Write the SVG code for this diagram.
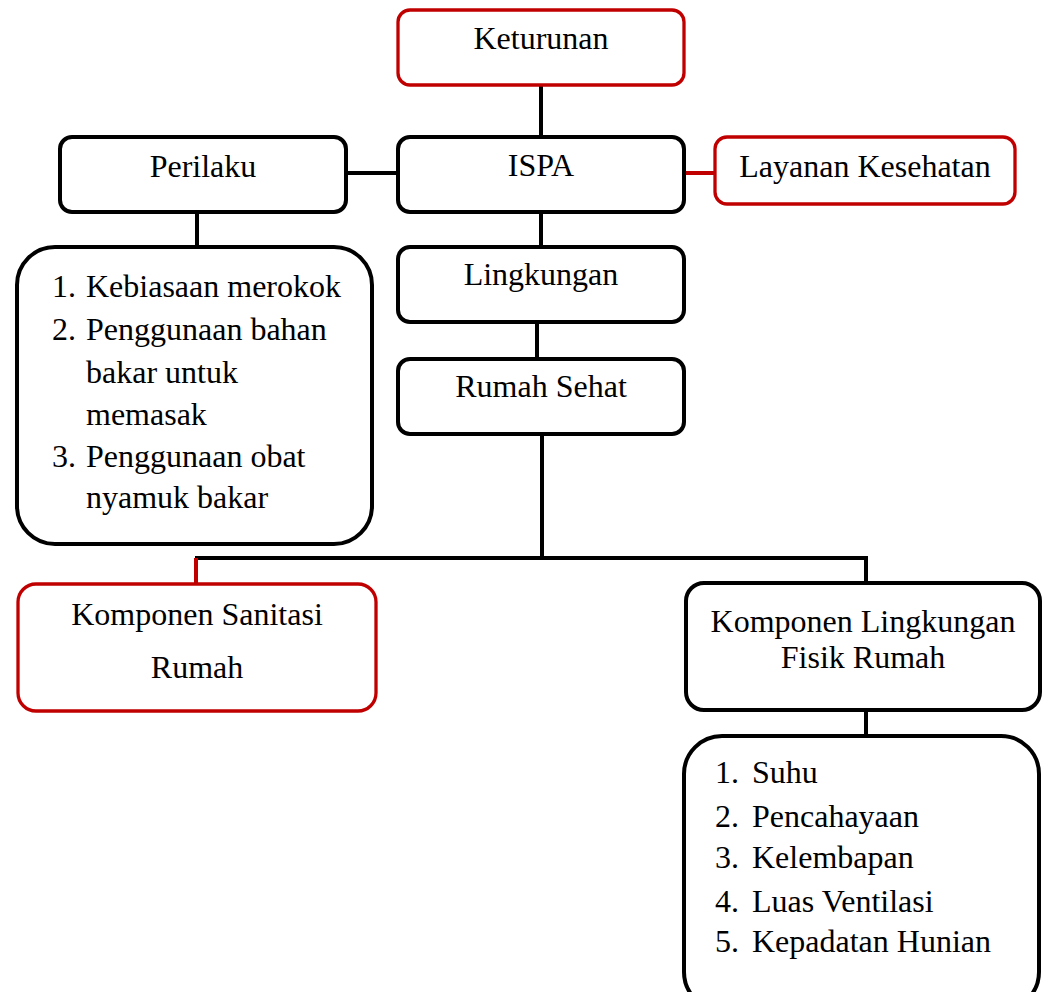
<svg xmlns="http://www.w3.org/2000/svg" width="1042" height="992" viewBox="0 0 1042 992">
<style>
.box{fill:#fff;stroke:#000;stroke-width:4}
.red{fill:#fff;stroke:#C00000;stroke-width:3.3}
.t{font-family:"Liberation Serif","Times New Roman",serif;font-size:32px;fill:#000}
.c{text-anchor:middle}
.ln{stroke:#000;stroke-width:4;fill:none}
.lr{stroke:#C00000;stroke-width:4;fill:none}
</style>
<rect width="1042" height="992" fill="#fff"/>
<g id="connectors">
<line class="ln" x1="541" y1="85" x2="541" y2="137"/>
<line class="ln" x1="346" y1="173" x2="398" y2="173"/>
<line class="lr" x1="685" y1="173" x2="715" y2="173"/>
<line class="ln" x1="197" y1="212" x2="197" y2="247"/>
<line class="ln" x1="541" y1="212" x2="541" y2="247"/>
<line class="ln" x1="537" y1="322" x2="537" y2="359"/>
<line class="ln" x1="542" y1="434" x2="542" y2="558"/>
<polyline class="ln" points="195,558 866,558 866,583"/>
<line class="lr" x1="196" y1="558" x2="196" y2="584"/>
<line class="ln" x1="866" y1="710" x2="866" y2="736"/>
</g>
<g id="keturunan">
<rect class="red" x="398" y="10" width="286" height="75" rx="12"/>
<text class="t c" x="541" y="49">Keturunan</text>
</g>
<g id="ispa">
<rect class="box" x="398" y="137" width="286" height="75" rx="12"/>
<text class="t c" x="541" y="176">ISPA</text>
</g>
<g id="perilaku">
<rect class="box" x="60" y="137" width="286" height="75" rx="12"/>
<text class="t c" x="203" y="177">Perilaku</text>
</g>
<g id="layanan">
<rect class="red" x="715" y="137" width="300" height="67" rx="12"/>
<text class="t c" x="865" y="177">Layanan Kesehatan</text>
</g>
<g id="perilaku-list">
<rect class="box" x="17" y="247" width="355" height="297" rx="38"/>
<text class="t" x="52" y="297">1.</text><text class="t" x="86" y="297">Kebiasaan merokok</text>
<text class="t" x="52" y="340">2.</text><text class="t" x="86" y="340">Penggunaan bahan</text>
<text class="t" x="86" y="383">bakar untuk</text>
<text class="t" x="86" y="425">memasak</text>
<text class="t" x="52" y="467">3.</text><text class="t" x="86" y="467">Penggunaan obat</text>
<text class="t" x="86" y="508">nyamuk bakar</text>
</g>
<g id="lingkungan">
<rect class="box" x="398" y="247" width="286" height="75" rx="12"/>
<text class="t c" x="541" y="285">Lingkungan</text>
</g>
<g id="rumah-sehat">
<rect class="box" x="398" y="359" width="286" height="75" rx="12"/>
<text class="t c" x="541" y="397">Rumah Sehat</text>
</g>
<g id="sanitasi">
<rect class="red" x="18" y="584" width="358" height="127" rx="18"/>
<text class="t c" x="197" y="625">Komponen Sanitasi</text>
<text class="t c" x="197" y="678">Rumah</text>
</g>
<g id="fisik">
<rect class="box" x="686" y="583" width="354" height="127" rx="18"/>
<text class="t c" x="863" y="632">Komponen Lingkungan</text>
<text class="t c" x="863" y="668">Fisik Rumah</text>
</g>
<g id="fisik-list">
<rect class="box" x="684" y="736" width="355" height="274" rx="38"/>
<text class="t" x="715" y="783">1.</text><text class="t" x="752" y="783">Suhu</text>
<text class="t" x="715" y="827">2.</text><text class="t" x="752" y="827">Pencahayaan</text>
<text class="t" x="715" y="868">3.</text><text class="t" x="752" y="868">Kelembapan</text>
<text class="t" x="715" y="912">4.</text><text class="t" x="752" y="912">Luas Ventilasi</text>
<text class="t" x="715" y="952">5.</text><text class="t" x="752" y="952">Kepadatan Hunian</text>
</g>
</svg>
